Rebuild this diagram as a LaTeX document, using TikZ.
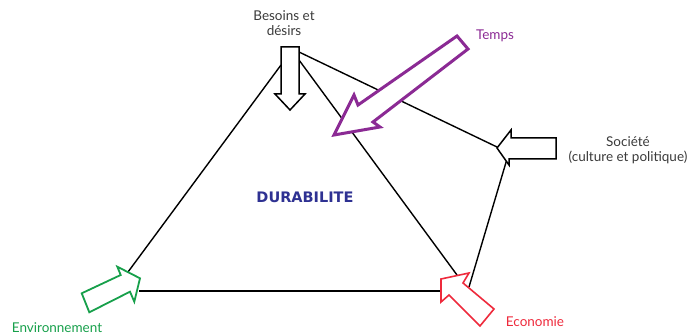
\documentclass[tikz,border=0pt]{standalone}
\usepackage{fontspec}
\setmainfont{Lato}
\newfontfamily\durfont{DejaVu Sans}
\definecolor{tpurple}{HTML}{8B2A94}
\definecolor{tgreen}{HTML}{17A04B}
\definecolor{tred}{HTML}{EE2A3C}
\definecolor{tblue}{HTML}{2E3192}
\definecolor{tgray}{HTML}{3A3A3A}
\tikzset{
  edge/.style={black, line width=1.4pt},
  blockarrow/.style={line width=1.5pt, fill=white, line join=miter},
  lbl/.style={font=\fontsize{13.5}{15.5}\selectfont, inner sep=0pt, align=center}
}
\begin{document}
\begin{tikzpicture}[x=1pt,y=-1pt]
\useasboundingbox (0,0) rectangle (699,336);
% triangle edge coordinates
\coordinate (l1a) at (281,65);  \coordinate (l1b) at (128,272);
\coordinate (l2a) at (299,60);  \coordinate (l2b) at (457,275);
\coordinate (l3a) at (299,52);  \coordinate (l3b) at (497,147);
\coordinate (l4a) at (507,159); \coordinate (l4b) at (469,287);
\coordinate (l5a) at (139,291); \coordinate (l5b) at (440,291);
\draw[edge] (l1a) -- (l1b);
\draw[edge] (l2a) -- (l2b);
\draw[edge] (l3a) -- (l3b);
\draw[edge] (l4a) -- (l4b);
\draw[edge] (l5a) -- (l5b);
% Besoins arrow (down)
\draw[blockarrow, draw=black] (281,47) -- (299,47) -- (299,94) -- (305,94) -- (290,110) -- (275,94) -- (281,94) -- cycle;
% Societe arrow (left)
\draw[blockarrow, draw=black] (556,138) -- (511,138) -- (511,130) -- (497,148) -- (509,165) -- (509,159) -- (556,159) -- cycle;
% Temps arrow
\draw[blockarrow, draw=tpurple, line width=3pt] (457,36) -- (468,49) -- (373,122) -- (380,127) -- (334,135) -- (354,95) -- (358,105) -- cycle;
% Environnement arrow
\draw[blockarrow, draw=tgreen, line width=1.8pt] (81.7,293.3) -- (120.7,275) -- (117.3,266.7) -- (140,278.3) -- (134.3,301.7) -- (130,291.7) -- (89.3,312.3) -- cycle;
% Economie arrow
\draw[blockarrow, draw=tred, line width=1.6pt] (441,279) -- (469,273) -- (463,283) -- (494,309) -- (480,326) -- (449,295) -- (441,302) -- cycle;
% labels
\node[lbl, text=tgray] (besoins) at (284,23) {Besoins et\\d\'esirs};
\node[lbl, text=tpurple] (temps) at (495,36) {Temps};
\node[lbl, text=tgray] (societe) at (628,150) {Soci\'et\'e\\(culture et politique)};
\node[lbl, text=tgreen] (env) at (57,328) {Environnement};
\node[lbl, text=tred] (eco) at (535,322) {Economie};
\node[font=\durfont\fontsize{14.5}{16}\bfseries\selectfont, text=tblue, inner sep=0pt] (dur) at (305,197) {DURABILITE};
\end{tikzpicture}
\end{document}
